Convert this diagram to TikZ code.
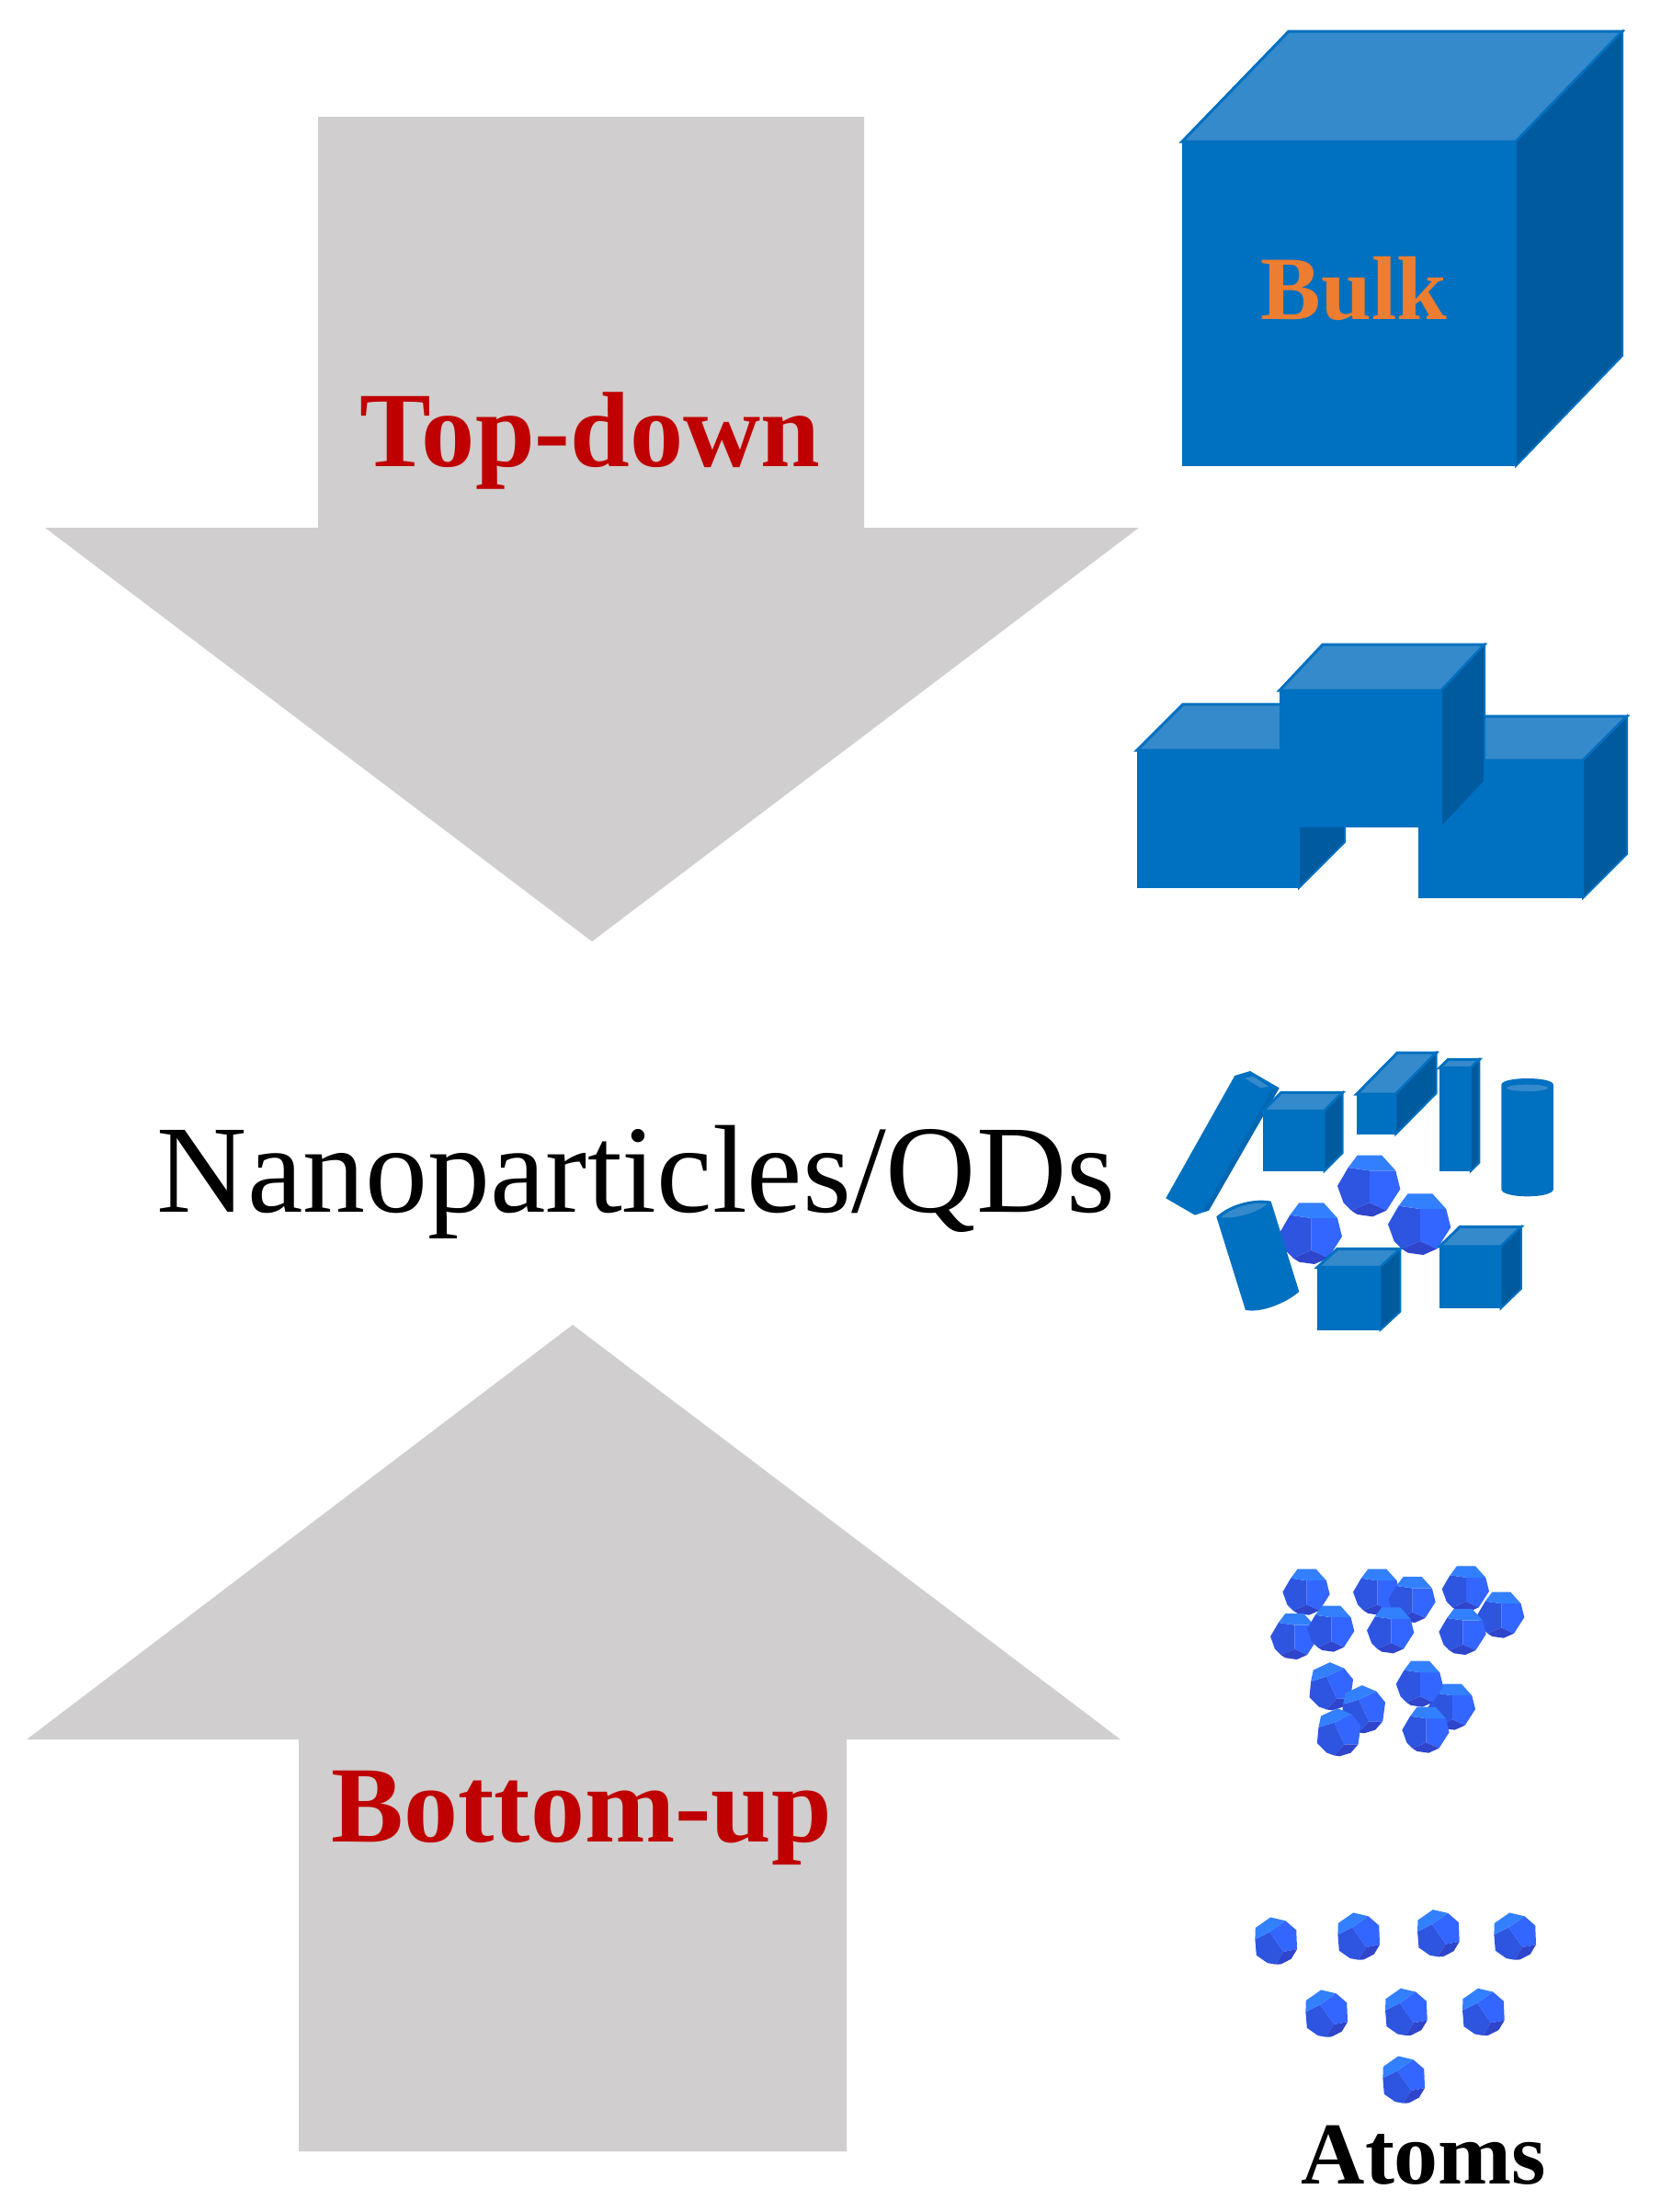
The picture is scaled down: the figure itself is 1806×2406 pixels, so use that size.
\documentclass[tikz,border=0pt]{standalone}
\usepackage{fontspec}
\setmainfont{Liberation Serif}
\definecolor{arrowgray}{HTML}{D0CECE}
\definecolor{cubeblue}{HTML}{0070C0}
\definecolor{cubelight}{HTML}{358ACB}
\definecolor{cubedark}{HTML}{005A9E}
\definecolor{atomtop}{HTML}{3380FF}
\definecolor{atomleft}{HTML}{2E55E0}
\definecolor{atomright}{HTML}{3366FF}
\definecolor{atombase}{HTML}{2E45CC}
\definecolor{labelred}{HTML}{C00000}
\definecolor{labelorange}{HTML}{ED7D31}
% front corners, then depth
\newcommand{\boxcube}[6]{
  \fill[cubeblue] (#1,#2) rectangle (#3,#4);
  \filldraw[cubelight, draw=cubeblue, line width=1.5pt]
    (#1,#2) -- ({#1+#5},{#2-#6}) -- ({#3+#5},{#2-#6}) -- (#3,#2) -- cycle;
  \filldraw[cubedark, draw=cubeblue, line width=1pt]
    (#3,#2) -- ({#3+#5},{#2-#6}) -- ({#3+#5},{#4-#6}) -- (#3,#4) -- cycle;
}
% centre, radius, turn
\newcommand{\atomball}[4]{
  \begin{scope}[shift={(#1,#2)},rotate=#4,scale=#3]
    \fill[atomright] (0,-0.5) -- (0.85,-0.5) -- (1,0.1) -- (0.55,0.8) -- (0,0.55) -- cycle;
    \fill[atomleft] (-1.05,0) -- (-0.7,-0.6) -- (0,-0.5) -- (0,0.55) -- (-0.6,0.8) -- (-0.85,0.55) -- cycle;
    \fill[atomtop] (-0.7,-0.6) -- (-0.4,-1) -- (0.4,-1) -- (0.85,-0.5) -- (0,-0.5) -- cycle;
    \fill[atombase] (-0.6,0.8) -- (0,0.55) -- (0.55,0.8) -- (0.1,1) -- (-0.4,0.93) -- cycle;
  \end{scope}
}
\begin{document}
\begin{tikzpicture}[
  x=0.5pt, y=-0.5pt,
  bigarrow/.style={fill=arrowgray},
  caption/.style={anchor=base, inner sep=0pt, font=\bfseries\fontsize{#1}{#1}\selectfont},
  zoomed/.style={scale=0.3333}
]
  \useasboundingbox (0,0) rectangle (1806,2406);

  % the two arrows
  \fill[bigarrow] (346,127) -- (940,127) -- (940,574) -- (1239,574) -- (644,1024)
    -- (49,574) -- (346,574) -- cycle;
  \fill[bigarrow] (623,1441) -- (1219,1892) -- (921,1892) -- (921,2340) -- (325,2340)
    -- (325,1892) -- (29,1892) -- cycle;

  \node[caption=58.2pt, text=labelred] (topdown) at (642,507) {Top-down};
  \node[caption=59pt, text=labelred] (bottomup) at (633,2003) {Bottom-up};
  \node[anchor=base, inner sep=0pt, font=\fontsize{68pt}{68pt}\selectfont] (nano) at (692,1318) {Nanoparticles/QDs};

  % bulk
  \boxcube{1286}{154}{1649}{507}{116}{120}
  \node[caption=49.2pt, text=labelorange] (bulk) at (1473,347) {Bulk};

  % three blocks
  \boxcube{1237}{816}{1413}{966}{50}{50}
  \boxcube{1543}{827}{1722}{977}{48}{48}
  \boxcube{1392}{751}{1568}{900}{47}{50}

  % nanoparticle mix
  \begin{scope}[shift={(1200,1100)},zoomed]
    \fill[cubeblue] (205,610) -- (430,210) -- (480,195) -- (575,250) -- (345,650) -- (300,665) -- cycle;
    \fill[cubedark!40!cubeblue] (550,258) -- (575,250) -- (345,650) -- (325,655) -- cycle;
    \fill[cubelight] (462,218) -- (490,212) -- (540,245) -- (515,250) -- cycle;
    \boxcube{522}{325}{722}{522}{60}{60}
    \boxcube{828}{270}{955}{402}{133}{135}
    \boxcube{1098}{185}{1200}{522}{28}{28}
    \fill[cubeblue] (1300,240) .. controls (1300,212) and (1470,212) .. (1470,240)
      -- (1470,580) .. controls (1470,612) and (1300,612) .. (1300,580) -- cycle;
    \fill[cubelight] (1385,250) ellipse [x radius=68, y radius=11];
    \atomball{870}{570}{100}{0}
    \atomball{680}{725}{100}{0}
    \atomball{1035}{695}{100}{0}
    \fill[cubeblue] (370,670) .. controls (420,625) and (500,610) .. (548,620)
      -- (640,915) .. controls (600,950) and (520,985) .. (465,975) -- cycle;
    \fill[cubelight] (385,672) .. controls (420,640) and (490,620) .. (535,628)
      .. controls (520,650) and (430,680) .. (385,672) -- cycle;
    \boxcube{700}{835}{905}{1040}{65}{60}
    \boxcube{1098}{768}{1298}{970}{67}{65}
  \end{scope}

  % clusters
  \begin{scope}[shift={(1320,1660)},zoomed]
    \foreach \cx/\cy in {305/215,265/360,385/335,535/215,650/240,580/340,940/290,825/205,815/345,780/590,675/515,695/665}
      \atomball{\cx}{\cy}{75}{0};
    \foreach \cx/\cy in {385/525,490/600,410/675}
      \atomball{\cx}{\cy}{75}{25};
  \end{scope}

  % atoms
  \begin{scope}[shift={(1320,2040)},zoomed]
    \foreach \cx/\cy in {205/215,475/200,735/190,985/200,370/452,630/447,882/447,622/668}
      \atomball{\cx}{\cy}{75}{35};
  \end{scope}
  \node[caption=48pt] (atoms) at (1549,2375) {Atoms};
\end{tikzpicture}
\end{document}
